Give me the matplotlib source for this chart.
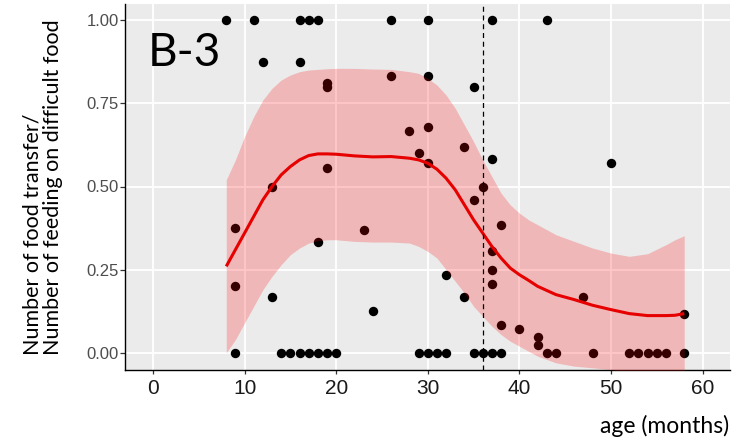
import matplotlib
matplotlib.use("Agg")
import matplotlib.pyplot as plt
import numpy as np

# ---- data: observed points ----
age = [8, 11, 16, 17, 18, 26, 30, 37, 43,
       12, 16,
       26, 30, 19, 19, 35,
       28, 30, 29, 30, 34, 19, 37, 50,
       13, 36, 35, 38, 9, 23, 18, 37, 37, 32, 37, 9, 13, 34, 47, 24, 58, 38, 40, 42, 42,
       9, 14, 15, 16, 17, 18, 19, 20, 29, 30, 31, 32, 35, 36, 37, 38, 43, 44, 48,
       52, 53, 54, 55, 56, 58]
ratio = [1.0, 1.0, 1.0, 1.0, 1.0, 1.0, 1.0, 1.0, 1.0,
         0.875, 0.875,
         0.833, 0.833, 0.8125, 0.80, 0.80,
         0.667, 0.68, 0.60, 0.571, 0.62, 0.556, 0.583, 0.57,
         0.50, 0.50, 0.46, 0.385, 0.375, 0.368, 0.333, 0.305, 0.25, 0.233, 0.208, 0.20,
         0.167, 0.167, 0.167, 0.125, 0.118, 0.083, 0.072, 0.048, 0.023,
         0, 0, 0, 0, 0, 0, 0, 0, 0, 0, 0, 0, 0, 0, 0, 0, 0, 0, 0,
         0, 0, 0, 0, 0, 0]

# ---- data: smooth fit and confidence band ----
fit_age = [8, 9, 10, 11, 12, 13, 14, 15, 16, 17, 18, 19, 20, 22, 24, 26, 28, 29, 30,
           31, 32, 33, 34, 35, 36, 37, 38, 39, 40, 41, 42, 44, 46, 48, 50, 52, 54,
           56, 57, 58]
fit_mid = [0.26, 0.31, 0.36, 0.41, 0.46, 0.50, 0.535, 0.56, 0.58, 0.593, 0.598, 0.598,
           0.597, 0.592, 0.589, 0.590, 0.585, 0.58, 0.57, 0.552, 0.525, 0.49, 0.445,
           0.40, 0.36, 0.32, 0.285, 0.255, 0.235, 0.218, 0.20, 0.175, 0.16, 0.143,
           0.13, 0.118, 0.112, 0.112, 0.113, 0.118]
fit_hi = [0.52, 0.58, 0.65, 0.71, 0.76, 0.795, 0.82, 0.835, 0.845, 0.85, 0.852, 0.854,
          0.855, 0.855, 0.853, 0.852, 0.845, 0.84, 0.825, 0.805, 0.775, 0.735, 0.685,
          0.635, 0.58, 0.53, 0.48, 0.445, 0.42, 0.40, 0.385, 0.355, 0.335, 0.315,
          0.30, 0.29, 0.298, 0.325, 0.34, 0.352]
fit_lo = [0.0, 0.04, 0.09, 0.14, 0.19, 0.23, 0.265, 0.295, 0.315, 0.33, 0.337, 0.34,
          0.34, 0.335, 0.333, 0.333, 0.33, 0.32, 0.305, 0.285, 0.25, 0.215, 0.18,
          0.14, 0.11, 0.08, 0.055, 0.035, 0.02, 0.005, -0.01, -0.03, -0.04, -0.045,
          -0.05, -0.06, -0.07, -0.08, -0.09, -0.1]

x_ticks = [0, 10, 20, 30, 40, 50, 60]
y_ticks = [0.0, 0.25, 0.5, 0.75, 1.0]
y_ticklabels = ["0.00", "0.25", "0.50", "0.75", "1.00"]
cutoff_age = 36
panel_label = "B-3"
x_label = "age (months)"
y_label = "Number of food transfer/\nNumber of feeding on difficult food"

W, H = 740, 443
fig = plt.figure(figsize=(W / 100, H / 100), dpi=100)
ax = fig.add_axes([125.5 / W, 73.5 / H, (730 - 125.5) / W, (439.5 - 73.5) / H])
ax.set_facecolor("#ebebeb")
ax.set_xlim(-3, 63)
ax.set_ylim(-0.05, 1.05)
ax.set_xticks(x_ticks)
ax.set_yticks(y_ticks)
ax.set_yticklabels(y_ticklabels)
ax.grid(True, color="white", linewidth=1.3)
ax.set_axisbelow(True)
for s in ["top", "right"]:
    ax.spines[s].set_visible(False)
for s in ["left", "bottom"]:
    ax.spines[s].set_color("black")
    ax.spines[s].set_linewidth(1.0)

ax.tick_params(axis="y", length=3.5, width=0.9, color="#333333", labelcolor="#4d4d4d",
               labelsize=12, pad=1.5)
ax.tick_params(axis="x", length=3, width=0.9, color="#333333", labelcolor="#1a1a1a",
               labelsize=15, pad=4)
for lab in ax.get_xticklabels() + ax.get_yticklabels():
    lab.set_fontfamily("Liberation Sans")

ax.scatter(age, ratio, s=46, color="black", zorder=2, linewidths=0)
ax.fill_between(fit_age, fit_lo, fit_hi, color="red", alpha=0.22, linewidth=0, zorder=3)
ax.plot(fit_age, fit_mid, color="#e60000", linewidth=2.2, zorder=4, solid_capstyle="butt")
ax.axvline(cutoff_age, color="black", linestyle=(0, (4, 3)), linewidth=0.9, zorder=5)

ax.text(-0.6, 0.861, panel_label, fontsize=33, family="Lato", ha="left", va="baseline",
        color="black", zorder=6)

fig.text(729 / W, 1 - 426 / H, x_label, fontsize=16.5, family="Lato", ha="right",
         va="center", color="black")
fig.text(42.5 / W, 1 - 187.5 / H, y_label, fontsize=15.5, family="Lato", rotation=90,
         ha="center", va="center", multialignment="left", linespacing=1.02, color="black")

fig.savefig("out.png", dpi=100)
